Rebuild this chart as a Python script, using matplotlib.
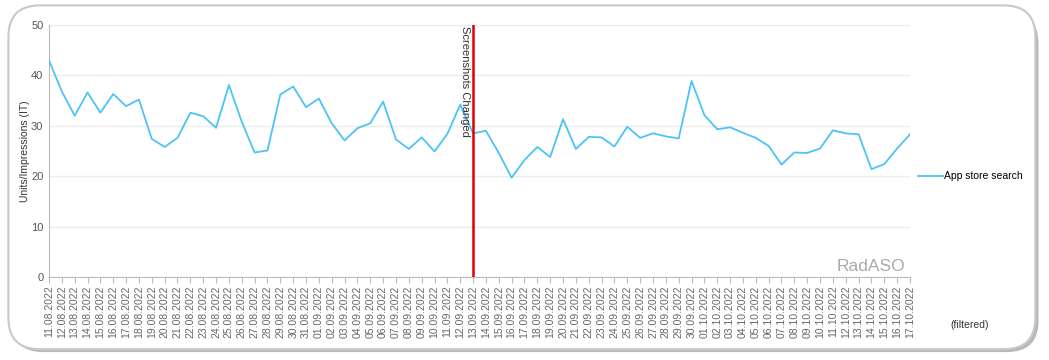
import matplotlib.pyplot as plt
from matplotlib.patches import FancyBboxPatch

plt.rcParams['font.family'] = ['Liberation Sans', 'DejaVu Sans']

dates = ['11.08.2022', '12.08.2022', '13.08.2022', '14.08.2022', '15.08.2022', '16.08.2022',
         '17.08.2022', '18.08.2022', '19.08.2022', '20.08.2022', '21.08.2022', '22.08.2022',
         '23.08.2022', '24.08.2022', '25.08.2022', '26.08.2022', '27.08.2022', '28.08.2022',
         '29.08.2022', '30.08.2022', '31.08.2022', '01.09.2022', '02.09.2022', '03.09.2022',
         '04.09.2022', '05.09.2022', '06.09.2022', '07.09.2022', '08.09.2022', '09.09.2022',
         '10.09.2022', '11.09.2022', '12.09.2022', '13.09.2022', '14.09.2022', '15.09.2022',
         '16.09.2022', '17.09.2022', '18.09.2022', '19.09.2022', '20.09.2022', '21.09.2022',
         '22.09.2022', '23.09.2022', '24.09.2022', '25.09.2022', '26.09.2022', '27.09.2022',
         '28.09.2022', '29.09.2022', '30.09.2022', '01.10.2022', '02.10.2022', '03.10.2022',
         '04.10.2022', '05.10.2022', '06.10.2022', '07.10.2022', '08.10.2022', '09.10.2022',
         '10.10.2022', '11.10.2022', '12.10.2022', '13.10.2022', '14.10.2022', '15.10.2022',
         '16.10.2022', '17.10.2022']

app_store_search = [43.0, 36.8, 32.0, 36.6, 32.6, 36.3, 33.9, 35.2, 27.4, 25.8,
                    27.6, 32.6, 31.9, 29.6, 38.1, 30.8, 24.7, 25.1, 36.2, 37.8,
                    33.7, 35.4, 30.5, 27.1, 29.5, 30.5, 34.8, 27.3, 25.4, 27.7,
                    24.9, 28.4, 34.2, 28.5, 29.0, 24.6, 19.7, 23.2, 25.8, 23.8,
                    31.3, 25.4, 27.8, 27.7, 25.9, 29.8, 27.6, 28.5, 27.9, 27.5,
                    38.9, 32.1, 29.3, 29.7, 28.6, 27.6, 26.0, 22.3, 24.7, 24.6,
                    25.5, 29.1, 28.5, 28.3, 21.4, 22.4, 25.5, 28.3]

event_date = '13.09.2022'
event_label = 'Screenshots Changed'

fig = plt.figure(figsize=(10.49, 3.6), dpi=100)

# rounded frame with a soft shadow, kept behind the axes
shadow = FancyBboxPatch((0.011, 0.022), 0.979, 0.945, boxstyle='round,pad=0,rounding_size=0.03',
                        transform=fig.transFigure, facecolor='#b8b8b8', edgecolor='none',
                        mutation_aspect=1049 / 360, zorder=-3)
frame = FancyBboxPatch((0.008, 0.03), 0.979, 0.955, boxstyle='round,pad=0,rounding_size=0.03',
                       transform=fig.transFigure, facecolor='white', edgecolor='#c8c8c8',
                       linewidth=1.5, mutation_aspect=1049 / 360, zorder=-2)
fig.patches.extend([shadow, frame])

ax = fig.add_axes([0.0467, 0.2306, 0.8208, 0.70])
ax.set_facecolor('none')

x = list(range(len(dates)))
ax.plot(x, app_store_search, color='#4dc3f7', linewidth=1.3, label='App store search', zorder=3)

ev = dates.index(event_date)
ax.axvline(ev, color='#e00000', linewidth=1.8, zorder=4)
ax.text(ev - 0.25, 49.7, event_label, rotation=-90, ha='right', va='top',
        fontsize=8, color='#333333')

ax.set_xlim(0, len(dates) - 1)
ax.set_ylim(0, 50)
ax.set_yticks([0, 10, 20, 30, 40, 50])
ax.set_xticks(x)
ax.set_xticklabels(dates, rotation=90, fontsize=7.5, color='#666666')
ax.tick_params(axis='y', labelsize=8, colors='#555555', length=0, pad=4)
ax.tick_params(axis='x', length=4, color='#bbbbbb', pad=2)
ax.grid(axis='y', color='#ececec', linewidth=1)
ax.set_axisbelow(True)
for side in ['top', 'right']:
    ax.spines[side].set_visible(False)
for side in ['left', 'bottom']:
    ax.spines[side].set_color('#bbbbbb')

ax.set_ylabel('Units/Impressions (IT)', fontsize=7.5, color='#333333', labelpad=1)

ax.text(0.995, 0.01, 'RadASO', transform=ax.transAxes, ha='right', va='bottom',
        fontsize=12.5, color='#aaaaaa')

ax.legend(loc='center left', bbox_to_anchor=(0.998, 0.4), frameon=False, fontsize=7.5,
          handlelength=2.4, handletextpad=0.1)

fig.text(0.906, 0.088, '(filtered)', fontsize=7.5, color='#333333')

fig.savefig('out.png', dpi=100)
